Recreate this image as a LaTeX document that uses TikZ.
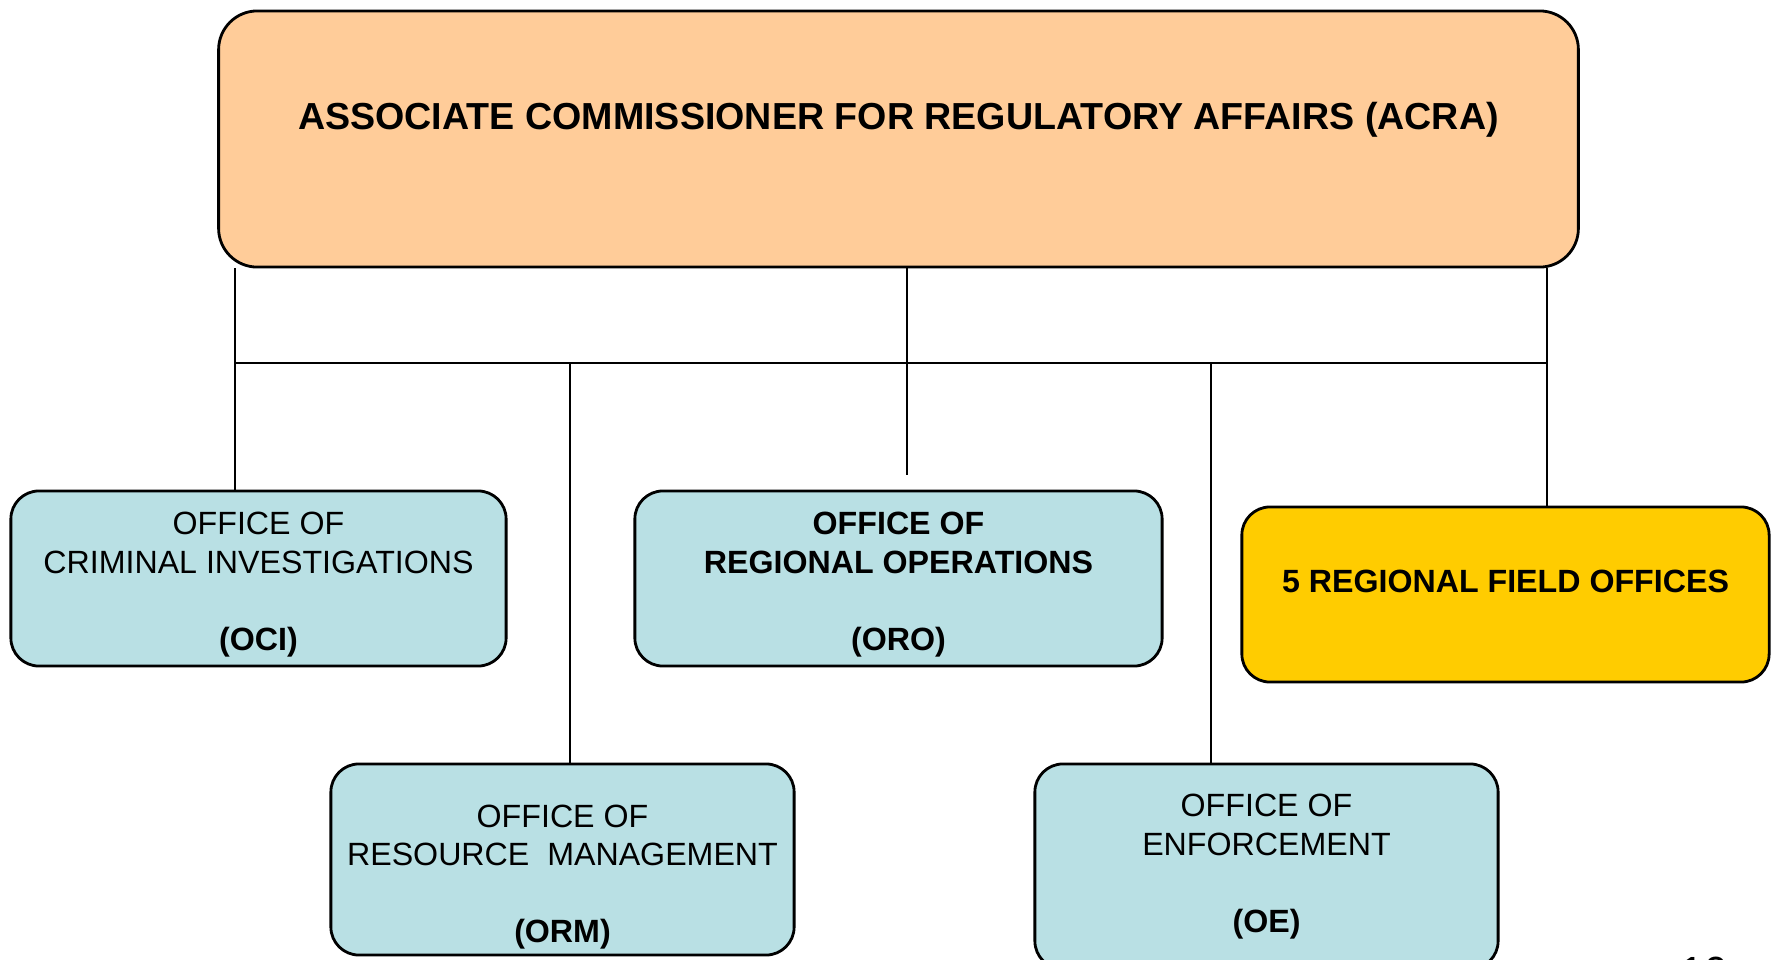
\documentclass[tikz,border=0pt]{standalone}
\usepackage{fontspec}
\setmainfont{Liberation Sans}
\definecolor{acrapeach}{HTML}{FFCC99}
\definecolor{officeblue}{HTML}{B9E0E4}
\definecolor{fieldgold}{HTML}{FFCC00}
\tikzset{
  headbox/.style={draw, rounded corners=11pt, line width=0.8pt, fill=acrapeach,
    font=\fontsize{10.7}{12.8}\selectfont\bfseries},
  office/.style={draw, rounded corners=8pt, line width=0.8pt, fill=officeblue,
    inner ysep=0pt, align=center, font=\fontsize{9.15}{10.9}\selectfont},
  fieldbox/.style={office, fill=fieldgold, font=\fontsize{9.15}{10.9}\selectfont\bfseries},
  link/.style={draw, line width=0.6pt}
}
\begin{document}
\begin{tikzpicture}[x=0.01cm,y=-0.01cm]
\useasboundingbox (0,0) rectangle (1771,960);

\node[headbox,minimum width=13.59cm,minimum height=2.56cm,text height=7.5pt,text depth=13pt] (acra) at (898.5,139) {ASSOCIATE COMMISSIONER FOR REGULATORY AFFAIRS (ACRA)};

\node[office,minimum width=4.95cm,minimum height=1.75cm] (oci) at (258.5,578.5) {\rule{0pt}{9.9pt}OFFICE OF\\CRIMINAL INVESTIGATIONS\\[11pt]\textbf{(OCI)}};
\node[office,minimum width=5.27cm,minimum height=1.75cm,font=\fontsize{9.15}{10.9}\selectfont\bfseries] (oro) at (898.5,578.5) {\rule{0pt}{9.9pt}OFFICE OF\\REGIONAL OPERATIONS\\[11pt](ORO)};
\node[fieldbox,minimum width=5.27cm,minimum height=1.75cm,text height=6.5pt,text depth=7.5pt] (field) at (1505.5,594.5) {5 REGIONAL FIELD OFFICES};
\node[office,minimum width=4.63cm,minimum height=1.91cm] (orm) at (562.5,859.5) {\rule{0pt}{16.3pt}OFFICE OF\\RESOURCE\ \ MANAGEMENT\\[11pt]\textbf{(ORM)}};
\node[office,minimum width=4.63cm,minimum height=2.05cm] (oe) at (1266.5,866.5) {OFFICE OF\\ENFORCEMENT\\[11pt]\textbf{(OE)}};

% bus line under the top box
\coordinate (busL) at (235,363);
\coordinate (busR) at (1547,363);
\coordinate (busM) at (907,363);
\coordinate (oroTip) at (907,475);
\coordinate (ormDrop) at (570,363);
\coordinate (oeDrop) at (1211,363);

\path[link] (busL) -- (busR);
\path[link] (acra.south -| busL) -- (oci.north -| busL);
\path[link] (acra.south -| busR) -- (field.north -| busR);
\path[link] (acra.south -| busM) -- (oroTip);
\path[link] (ormDrop) -- (orm.north -| ormDrop);
\path[link] (oeDrop) -- (oe.north -| oeDrop);

\node[anchor=north west,inner sep=0pt,font=\fontsize{12}{14}\selectfont] (pagenum) at (1680,956) {10};
\end{tikzpicture}
\end{document}
